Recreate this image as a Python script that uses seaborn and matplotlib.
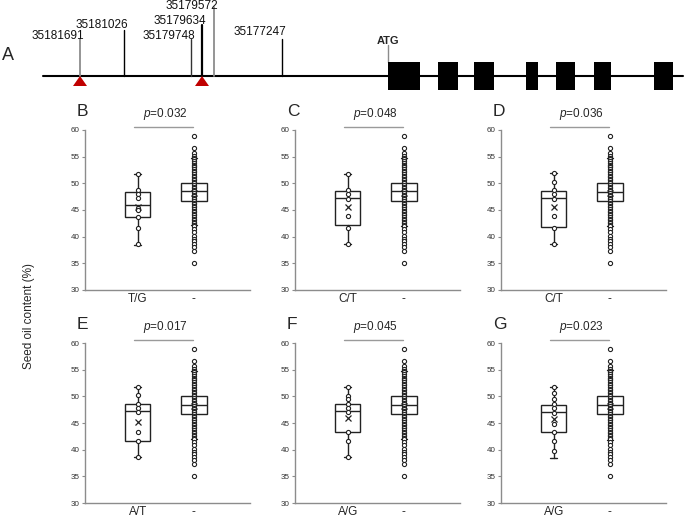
import numpy as np
import pandas as pd
import seaborn as sns
import matplotlib.pyplot as plt
import matplotlib.patches as patches

# ---------------- data ----------------
# gene model (diagram units, not to scale)
snp_labels = ['35181691', '35181026', '35179748', '35179634', '35179572', '35177247']
snp_x = [80, 124, 191, 202, 214, 282]
snp_top = [39, 30, 39, 25, 7, 39]
snp_label_y = [39, 28, 39, 24, 9, 35]
snp_colors = ['#8c8c8c', 'black', '#333333', 'black', '#8c8c8c', 'black']
snp_widths = [1.3, 1.0, 1.0, 1.6, 1.3, 1.0]
lead_snp_x = [80, 202]          # red triangles
atg_x = 388
exon_start = [388, 438, 474, 526, 556, 594, 654]
exon_end = [420, 458, 494, 538, 575, 611, 673]

# boxplot panels
panel_letters = ['B', 'C', 'D', 'E', 'F', 'G']
minor_labels = ['T/G', 'C/T', 'C/T', 'A/T', 'A/G', 'A/G']
p_values = ['0.032', '0.048', '0.036', '0.017', '0.045', '0.023']

minor_q1 = [43.6, 42.2, 41.75, 41.6, 43.3, 43.4]
minor_med = [46.0, 47.3, 47.2, 47.2, 47.3, 47.1]
minor_q3 = [48.4, 48.6, 48.6, 48.6, 48.6, 48.4]
minor_lo = [38.5, 38.6, 38.6, 38.6, 38.6, 38.5]
minor_hi = [51.75, 51.75, 52.0, 51.7, 51.7, 51.7]
minor_mean = [45.5, 45.6, 45.6, 45.2, 45.9, 45.7]
minor_points = [
    [51.7, 48.7, 48.0, 47.2, 45.4, 45.0, 43.6, 41.7, 38.6],
    [51.7, 48.7, 48.0, 47.1, 43.8, 41.7, 38.7],
    [51.9, 50.2, 48.7, 48.0, 47.1, 43.8, 41.7, 38.7],
    [51.7, 50.2, 48.6, 47.9, 47.1, 43.4, 41.6, 38.7],
    [51.7, 50.1, 49.5, 48.6, 47.8, 47.0, 43.4, 41.6, 38.7],
    [51.7, 50.6, 49.5, 48.6, 47.8, 46.9, 44.9, 43.4, 41.7, 39.7],
]

major_q1 = [46.75, 46.75, 46.75, 46.7, 46.7, 46.7]
major_med = [48.5, 48.5, 48.45, 48.4, 48.4, 48.4]
major_q3 = [50.0, 50.0, 50.0, 50.0, 50.0, 50.0]
major_lo = [42.1, 42.0, 42.05, 42.0, 42.0, 41.9]
major_hi = [54.75, 54.7, 54.7, 54.75, 54.75, 55.0]
major_mean = [48.2, 48.2, 48.2, 48.2, 48.2, 48.2]
major_points = [58.8, 56.6, 55.7, 55.2, 54.8, 54.5, 54.1, 53.9, 53.5, 53.3,
                53.0, 52.6, 52.4, 52.1, 51.8, 51.4, 51.2, 50.9, 50.6, 50.3,
                50.0, 49.7, 49.4, 49.1, 48.8, 48.5, 48.2, 47.9, 47.6, 47.3,
                47.0, 46.7, 46.4, 46.1, 45.8, 45.5, 45.2, 44.9, 44.6, 44.3,
                44.0, 43.7, 43.4, 43.1, 42.8, 42.5, 42.2, 42.0, 41.4, 40.8,
                40.2, 39.6, 39.1, 38.6, 38.0, 37.4, 35.1]

# ---------------- style ----------------
sns.set_style('white')
plt.rcParams['font.family'] = ['Liberation Sans', 'DejaVu Sans']
plt.rcParams['mathtext.fontset'] = 'custom'
plt.rcParams['mathtext.rm'] = 'Liberation Sans'
plt.rcParams['mathtext.it'] = 'Liberation Sans:italic'

W, H = 685, 520
fig = plt.figure(figsize=(W / 100, H / 100), dpi=100)

############## A: gene model ##############
axg = fig.add_axes([0, 420 / H, 1, 100 / H])
axg.set_xlim(0, W)
axg.set_ylim(100, 0)
axg.axis('off')
axg.text(2, 55, 'A', fontsize=13, ha='left', va='center')
axg.plot([43, 683], [76, 76], color='black', lw=1.5, zorder=1)
for s, e in zip(exon_start, exon_end):
    axg.add_patch(patches.Rectangle((s, 62), e - s, 28, facecolor='black', edgecolor='none', zorder=2))
for lab, x, top, ly, c, lw in zip(snp_labels, snp_x, snp_top, snp_label_y, snp_colors, snp_widths):
    axg.plot([x, x], [top, 76], color=c, lw=lw, zorder=1)
    axg.text(x + 4, ly, lab, fontsize=8.5, ha='right', va='baseline', color='#111111')
axg.plot([atg_x, atg_x], [45, 62], color='#8c8c8c', lw=1.0, zorder=1)
axg.text(atg_x - 11, 44, 'ATG', fontsize=8, fontweight='bold', ha='left', va='baseline')
for x in lead_snp_x:
    axg.add_patch(patches.Polygon([(x - 7, 86), (x + 7, 86), (x, 76)], closed=True,
                                  facecolor='#c00000', edgecolor='none', zorder=3))

############## B-G: boxplots ##############
lefts = [85, 295, 501]
tops = [130, 343]
aw, ah = 165, 160

for k in range(6):
    r, c = divmod(k, 3)
    ax = fig.add_axes([lefts[c] / W, (H - tops[r] - ah) / H, aw / W, ah / H])
    lab = minor_labels[k]
    df = pd.DataFrame({
        'allele': [lab] * len(minor_points[k]) + ['-'] * len(major_points),
        'oil': minor_points[k] + major_points,
    })
    stats = [
        dict(q1=minor_q1[k], med=minor_med[k], q3=minor_q3[k], whislo=minor_lo[k],
             whishi=minor_hi[k], mean=minor_mean[k], fliers=[]),
        dict(q1=major_q1[k], med=major_med[k], q3=major_q3[k], whislo=major_lo[k],
             whishi=major_hi[k], mean=major_mean[k], fliers=[]),
    ]
    lc = '#222222'
    ax.bxp(stats, positions=[0, 1], widths=0.45, showfliers=False, showmeans=True,
           patch_artist=True, manage_ticks=False, capwidths=0.12,
           boxprops=dict(facecolor='white', edgecolor=lc, linewidth=1.0),
           medianprops=dict(color=lc, linewidth=1.0),
           whiskerprops=dict(color=lc, linewidth=1.0),
           capprops=dict(color=lc, linewidth=1.0),
           meanprops=dict(marker='x', markeredgecolor=lc, markersize=5, markeredgewidth=0.9))
    sns.stripplot(data=df, x='allele', y='oil', order=[lab, '-'], jitter=False,
                  size=3, color='white', edgecolor='#222222', linewidth=0.8,
                  ax=ax, zorder=3)

    ax.set_xlim(-0.94, 2.0)
    ax.set_ylim(30, 60)
    ax.set_yticks(np.arange(30, 61, 5))
    ax.set_xticks([0, 1])
    ax.set_xticklabels([lab, '-'])
    ax.set_xlabel('')
    ax.set_ylabel('')
    for side in ('top', 'right'):
        ax.spines[side].set_visible(False)
    for side in ('left', 'bottom'):
        ax.spines[side].set_color('#8c8c8c')
        ax.spines[side].set_linewidth(1.0)
    ax.tick_params(axis='y', length=2.5, width=0.8, color='#8c8c8c', labelsize=5.8,
                   labelcolor='#333333', pad=1.5, left=True)
    ax.tick_params(axis='x', length=0, labelsize=8.5, pad=2)

    # significance bar
    ax.plot([-0.07, 0.98], [60.6, 60.6], color='#9a9a9a', lw=1.0, clip_on=False)
    ax.text(0.49, 61.5, r'$p$=' + p_values[k], fontsize=8.5, ha='center', va='bottom')
    ax.annotate(panel_letters[k], xy=(0, 1), xycoords='axes fraction', xytext=(-8, 14),
                textcoords='offset pixels', fontsize=12.5, ha='left', va='baseline')

fig.text(29 / W, 1 - 316 / H, 'Seed oil content (%)', rotation=90, fontsize=8.5,
         ha='center', va='center')

fig.savefig('out.png', dpi=100)
